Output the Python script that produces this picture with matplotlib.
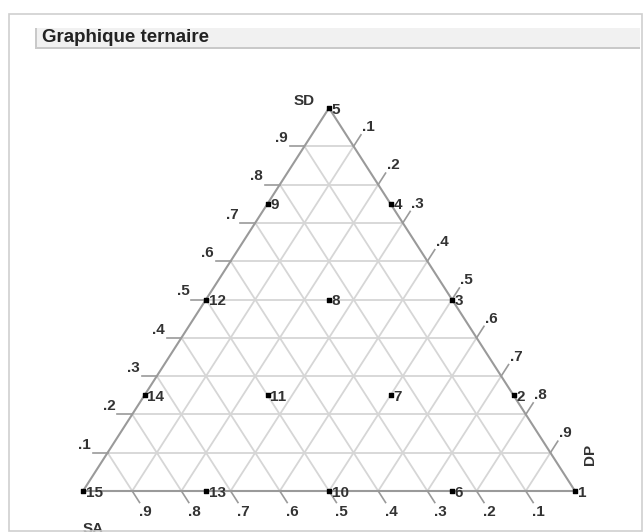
import matplotlib.pyplot as plt
from matplotlib.patches import Rectangle
import numpy as np

plt.rcParams['font.family'] = ['Liberation Sans', 'DejaVu Sans']

# simplex-lattice design points (SA, SD, DP)
run_no = [1, 2, 3, 4, 5, 6, 7, 8, 9, 10, 11, 12, 13, 14, 15]
SA = [0, 0, 0, 0, 0, .25, .25, .25, .25, .5, .5, .5, .75, .75, 1]
SD = [0, .25, .5, .75, 1, 0, .25, .5, .75, 0, .25, .5, 0, .25, 0]
DP = [1, .75, .5, .25, 0, .75, .5, .25, 0, .5, .25, 0, .25, 0, 0]

levels = [.1, .2, .3, .4, .5, .6, .7, .8, .9]
level_labels = ['.1', '.2', '.3', '.4', '.5', '.6', '.7', '.8', '.9']


def xy(sa, sd, dp):
    sa, sd, dp = np.asarray(sa), np.asarray(sd), np.asarray(dp)
    return dp + sd / 2.0, sd


W, H = 644, 532
fig = plt.figure(figsize=(W / 100, H / 100), dpi=100)

# panel frame and title bar
fig.patches.append(Rectangle((9 / W, 1 - 531 / H), 633 / W, 517 / H,
                             transform=fig.transFigure, fill=False,
                             edgecolor='#cfcfcf', lw=1.2, zorder=0))
fig.patches.append(Rectangle((35 / W, 1 - 48 / H), 605 / W, 20 / H,
                             transform=fig.transFigure, facecolor='#f1f1f1',
                             edgecolor='none', zorder=0))
fig.patches.append(Rectangle((35 / W, 1 - 49 / H), 605 / W, 1.5 / H,
                             transform=fig.transFigure, facecolor='#c9c9c9',
                             edgecolor='none', zorder=0))
fig.patches.append(Rectangle((35 / W, 1 - 48 / H), 1.5 / W, 20 / H,
                             transform=fig.transFigure, facecolor='#c9c9c9',
                             edgecolor='none', zorder=0))
fig.text(42 / W, 1 - 37.5 / H, 'Graphique ternaire', fontsize=13.5,
         fontweight='bold', color='#222222', va='center', ha='left')

ax = fig.add_axes([83 / W, 1 - 491 / H, 492 / W, 383 / H])
ax.set_xlim(0, 1)
ax.set_ylim(0, 1)
ax.axis('off')

grid_c = '#d6d6d6'
edge_c = '#9a9a9a'
txt_c = '#333333'
ext = 0.03
fs = 11

for v, lab in zip(levels, level_labels):
    # SD constant
    x, y = xy([1 - v, 0], [v, v], [0, 1 - v])
    ax.plot(x, y, color=grid_c, lw=1.3, clip_on=False, zorder=1)
    # DP constant
    x, y = xy([1 - v, 0], [0, 1 - v], [v, v])
    ax.plot(x, y, color=grid_c, lw=1.3, clip_on=False, zorder=1)
    # SA constant
    x, y = xy([v, v], [0, 1 - v], [1 - v, 0])
    ax.plot(x, y, color=grid_c, lw=1.3, clip_on=False, zorder=1)

    # left ticks (SD)
    x, y = xy([1 - v, 1 - v + ext], [v, v], [0, -ext])
    ax.plot(x, y, color=edge_c, lw=1.2, clip_on=False)
    ax.text(x[1] - 0.004, y[1] + 0.003, lab,
            ha='right', va='bottom', fontsize=fs, fontweight='bold', color=txt_c)
    # right ticks (DP)
    x, y = xy([0, -ext], [1 - v, 1 - v + ext], [v, v])
    ax.plot(x, y, color=edge_c, lw=1.2, clip_on=False)
    ax.text(x[1] + 0.002, y[1] + 0.002, lab,
            ha='left', va='bottom', fontsize=fs, fontweight='bold', color=txt_c)
    # bottom ticks (SA)
    x, y = xy([v, v], [0, -ext], [1 - v, 1 - v + ext])
    ax.plot(x, y, color=edge_c, lw=1.2, clip_on=False)
    ax.text(x[1] - 0.002, y[1] - 0.006, lab,
            ha='left', va='top', fontsize=fs, fontweight='bold', color=txt_c)

# triangle outline
x, y = xy([1, 0, 0, 1], [0, 1, 0, 0], [0, 0, 1, 0])
ax.plot(x, y, color=edge_c, lw=1.5, clip_on=False, zorder=2)

# design points
px, py = xy(SA, SD, DP)
ax.scatter(px, py, marker='s', s=12, color='black', zorder=4, clip_on=False)
for n, a, b in zip(run_no, px, py):
    ax.text(a + 0.006, b - 0.004, str(n), ha='left', va='center', fontsize=fs,
            fontweight='bold', color=txt_c, zorder=5)

# component names
ax.text(0.47, 1.0, 'SD', ha='right', va='bottom', fontsize=fs,
        fontweight='bold', color=txt_c)
ax.text(1.03, 0.095, 'DP', ha='center', va='center', rotation=90,
        fontsize=fs, fontweight='bold', color=txt_c)
ax.text(0.0, -0.1, 'SA', ha='left', va='center', fontsize=fs,
        fontweight='bold', color=txt_c)

fig.savefig('out.png', dpi=100)
